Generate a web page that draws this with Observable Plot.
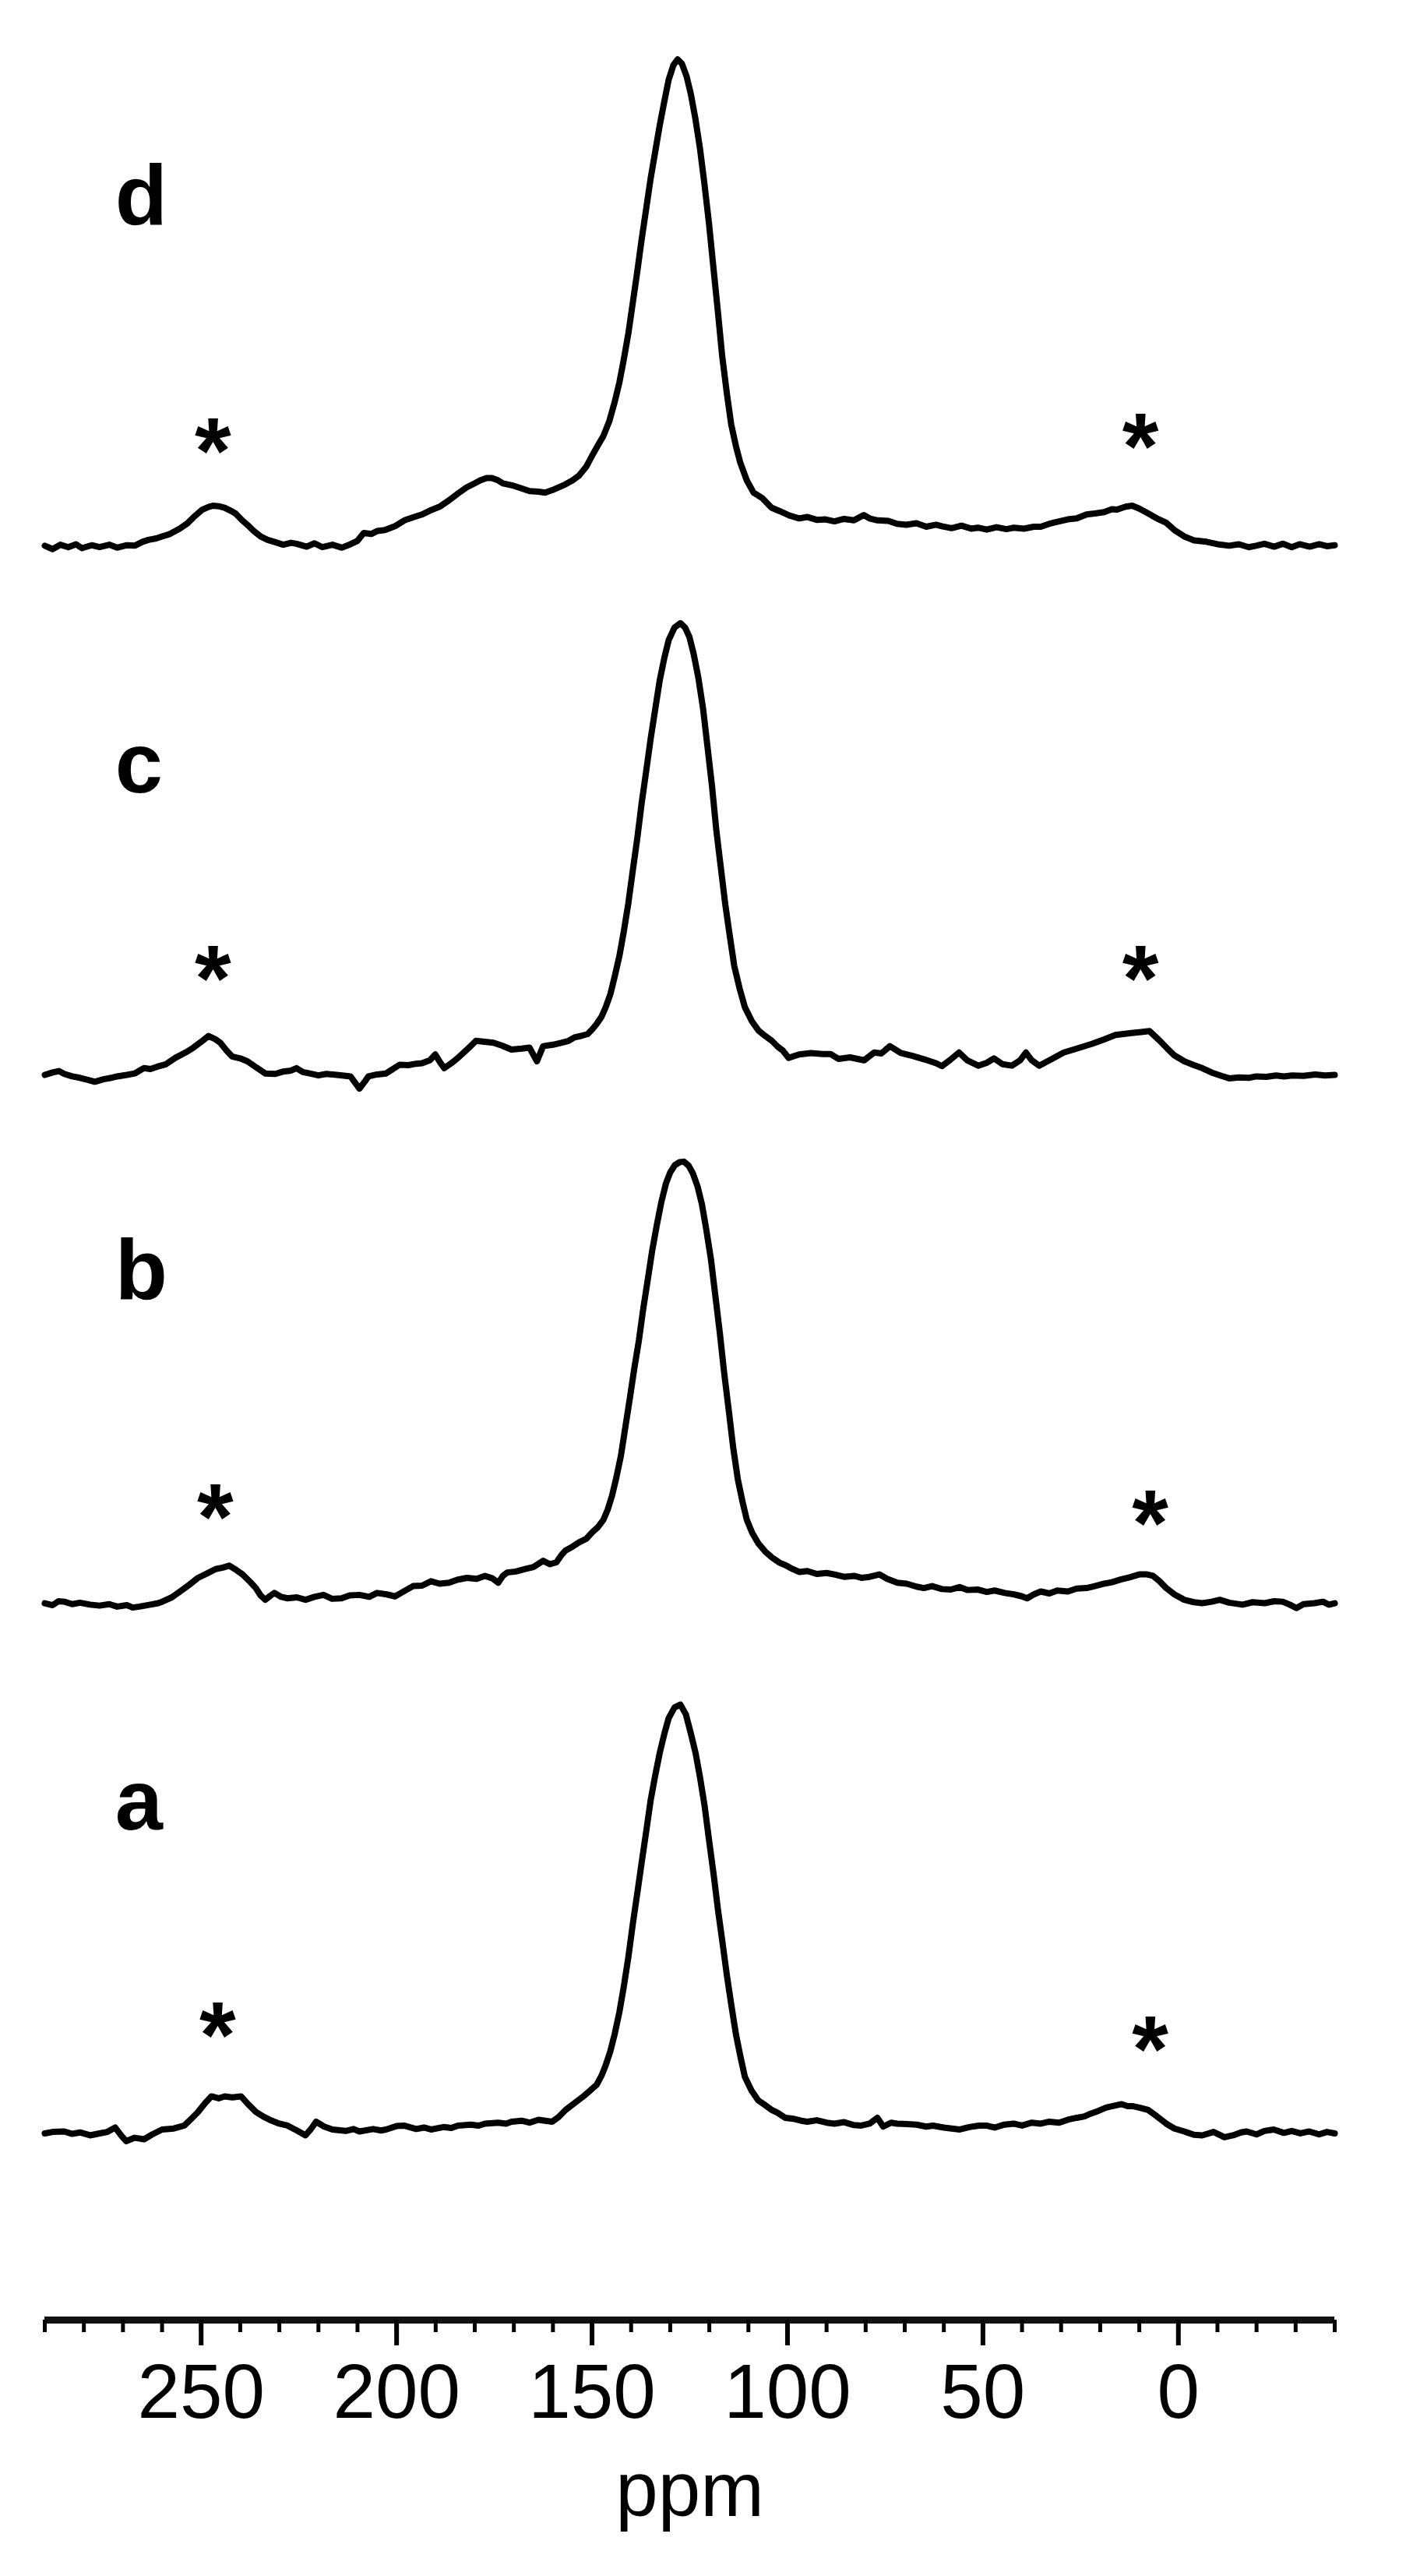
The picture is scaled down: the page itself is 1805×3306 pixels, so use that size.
<!DOCTYPE html>
<html><head><meta charset="utf-8">
<script src="https://cdn.jsdelivr.net/npm/d3@7"></script>
<script src="https://cdn.jsdelivr.net/npm/@observablehq/plot@0.6"></script>
<style>body{margin:0;background:#fff;} #chart svg{display:block;}</style>
</head><body><div id="chart"></div>
<script>
// Spectra: [chemical shift (ppm), intensity relative to baseline, tallest peak (d) = 100]
const specD = [[290,0],[288,-0.7],[286,0.2],[284,-0.3],[282,0.3],[280.5,-0.5],[278,0.1],[276,-0.3],[273.5,0.2],[271.5,-0.4],[269,0.1],[267,0],[265,0.8],[263.5,1.2],[261.5,1.5],[260,1.9],[258,2.4],[255.5,3.5],[253.5,4.6],[252,5.8],[249.7,7.4],[248,8.0],[247,8.2],[245.5,8.1],[244,7.8],[242.5,7.2],[241.2,6.6],[239.5,5.2],[238.2,4.3],[236.5,3.0],[234.8,1.9],[233,1.2],[231.3,0.8],[229,0.2],[227,0.6],[225.6,0.4],[223,-0.2],[221,0.5],[219,-0.3],[216.4,0.2],[214,-0.4],[211.8,0.3],[210,1.0],[208.4,2.6],[206.5,2.4],[205,3.0],[203,3.2],[200.4,4.0],[198,5.2],[195.8,5.8],[193.5,6.4],[191.2,7.3],[189,8.0],[186.6,9.3],[184.5,10.6],[182,12.0],[180,12.8],[178.6,13.4],[177,13.9],[175.6,13.9],[174,13.4],[172.8,12.8],[170.5,12.4],[168.2,11.8],[166,11.2],[163.7,11.1],[162,10.9],[160.2,11.4],[158.5,12.0],[156.8,12.6],[155,13.4],[153.3,14.4],[151.5,16.2],[149.9,18.6],[148.5,20.6],[147.1,22.5],[145.6,25.5],[144.2,29.5],[143,33.5],[141.9,38.1],[140.7,43.6],[139.6,49.7],[138.4,56.4],[137.3,62.9],[136.1,69.4],[135,75.4],[133.8,81.0],[132.7,86.2],[131.5,91.2],[130.4,95.6],[129.2,98.6],[128.1,99.8],[127,98.9],[125.8,96.3],[124.7,92.6],[123.6,87.8],[122.4,81.6],[121.3,74.6],[120.1,66.3],[119,57.5],[117.8,48.0],[116.7,38.9],[115.5,31.2],[114.4,24.9],[113.2,20.5],[112.1,17.1],[110.4,13.4],[108.7,10.9],[106.5,9.8],[104.1,7.8],[102,7.1],[99.5,6.2],[97,5.6],[95,5.9],[92.5,5.3],[90.3,5.4],[88,5.0],[85.5,5.5],[83,5.2],[80.5,6.3],[79,5.6],[77,5.2],[74.2,5.1],[72,4.5],[69.6,4.3],[67,4.6],[64.5,3.9],[62,4.3],[60.5,4.0],[58,3.6],[55.5,4.1],[53,3.5],[51.3,3.7],[49,3.3],[46.5,3.8],[44,3.4],[42.1,3.7],[39.5,3.5],[37,3.9],[35.2,3.9],[33,4.5],[30.5,5.0],[28.3,5.4],[26,5.6],[23.5,6.4],[21.4,6.6],[19,6.9],[17,7.5],[15.7,7.4],[13.5,8.0],[11.8,8.2],[10,7.6],[7.7,6.6],[5.5,5.6],[3.1,4.7],[1,3.2],[-1.5,1.9],[-4,1.1],[-7.2,0.8],[-10,0.3],[-13,0],[-15.5,0.3],[-18,-0.3],[-19.9,0],[-22,0.4],[-24.5,-0.2],[-26.7,0.4],[-29,-0.3],[-31,0.3],[-33.6,-0.2],[-36,0.3],[-38,-0.1],[-40,0.1]];

const specC = [[290,0],[288,0.5],[286.4,0.8],[285,0.2],[283,-0.3],[281,-0.6],[279,-1.0],[277.2,-1.4],[275,-0.9],[273,-0.6],[271.5,-0.3],[269,0.0],[267,0.3],[265.5,1.0],[264.6,1.4],[263,1.2],[261.2,1.7],[259,2.2],[256.6,3.5],[254,4.6],[252,5.6],[250,6.8],[248.1,8.0],[246.5,7.4],[245.1,6.6],[243.5,5.0],[242.1,3.8],[240,3.4],[238.2,2.8],[236,1.6],[233.6,0.3],[231,0.2],[229,0.7],[227,0.9],[225.6,1.4],[224,0.6],[222.2,0.3],[220,-0.1],[218,0.2],[215.3,0],[213,-0.2],[211.8,-0.3],[209.5,-2.8],[208,-1.2],[207.2,-0.3],[205,0.1],[202.7,0.3],[201,1.2],[199.2,2.1],[197,2.0],[195,2.3],[193.5,2.4],[191.5,3.0],[190.1,4.2],[188.8,2.5],[187.8,1.4],[186,2.4],[184.3,3.5],[182,5.2],[179.7,7.0],[177.5,6.8],[175.2,6.6],[173,6.0],[170.6,5.2],[168,5.4],[166,5.6],[164.1,2.8],[162.5,5.9],[160,6.2],[157.9,6.6],[156,7.0],[154.5,7.7],[152.8,8.0],[151.1,8.4],[149.9,9.4],[148.8,10.5],[147.6,11.9],[146.5,13.9],[145.3,16.6],[144.2,20.2],[143,24.4],[141.9,29.3],[140.7,35.3],[139.6,41.8],[138.4,48.7],[137.3,55.8],[136.1,62.6],[135,69.0],[133.8,75.2],[132.7,80.9],[131.5,85.6],[130.4,89.2],[128.9,91.8],[127.4,92.7],[126.2,91.8],[125.1,89.9],[124,86.4],[122.8,81.5],[121.6,75.2],[120.5,67.6],[119.3,59.2],[118.2,50.2],[117,42.2],[115.9,34.9],[114.7,28.2],[113.6,22.3],[112.2,17.6],[110.9,13.9],[109.1,11.0],[107.4,9.1],[105.7,8.0],[104,7.0],[102.5,5.8],[101.2,5.0],[99.7,3.5],[97,4.2],[94,4.5],[91,4.3],[89,4.3],[87,3.3],[84,3.6],[80.4,3.0],[77.8,4.6],[76,4.4],[73.8,5.9],[71,4.5],[68,3.9],[65,3.2],[62,2.4],[60.5,1.8],[58.5,3.0],[56.1,4.6],[54,3.0],[51.2,1.9],[49,2.5],[47.2,3.4],[45,2.2],[42.6,1.9],[40.5,3.0],[39,4.6],[37.5,3.0],[35.6,1.9],[33,3.0],[29.3,4.6],[26,5.4],[22,6.4],[19,7.3],[16.1,8.2],[12,8.6],[9.5,8.8],[7.4,9.0],[5,7.2],[2.8,5.4],[1,4.0],[-1.5,2.8],[-4,2.0],[-6.1,1.4],[-8.5,0.5],[-11,-0.2],[-13,-0.7],[-15.5,-0.5],[-18,-0.6],[-19.9,-0.3],[-22.5,-0.4],[-25,-0.1],[-27,-0.3],[-29.1,-0.1],[-32,-0.2],[-35,0.1],[-37.5,-0.1],[-40,0]];

const specB = [[290,0],[288,-0.4],[286.5,0.4],[285,0.3],[283,-0.2],[281,0.1],[278.4,-0.3],[276,-0.5],[273.5,-0.2],[271.5,-0.7],[269,-0.4],[267.5,-0.9],[265.8,-0.7],[263,-0.3],[261,0.0],[260,0.3],[257.5,1.2],[255.4,2.4],[253,3.8],[250.8,5.2],[248.5,6.1],[246.3,7.0],[244.5,7.3],[242.8,7.7],[241,6.8],[239.4,5.9],[237.5,4.4],[236,3.1],[234.8,1.6],[233.6,0.7],[232.5,1.4],[231.3,2.1],[229.5,1.3],[227.9,1.0],[225.5,1.2],[223.3,0.7],[221,1.3],[218.7,1.7],[216.5,0.9],[214.1,1.0],[212,1.6],[209.5,1.7],[207,1.3],[205,2.1],[202.5,1.8],[200.4,1.4],[198,2.5],[195.8,3.5],[193.5,3.6],[191.2,4.5],[189,4.0],[186.6,4.2],[184.5,4.8],[182,5.2],[179.5,5.0],[177.4,5.6],[175.5,5.1],[174,4.2],[172.8,5.6],[171.7,6.3],[169.5,6.5],[167.1,7.0],[165,7.4],[162.5,8.7],[160.8,8.0],[159.1,8.4],[157.8,9.9],[156.8,10.8],[155,11.6],[153.3,12.5],[151.5,13.2],[149.9,14.6],[148.5,15.6],[147.1,17.1],[146,19.2],[144.9,22.0],[143.8,25.7],[142.6,30.3],[141.5,36.0],[140.3,42.2],[139.2,48.1],[138,54.0],[136.9,60.4],[135.7,66.6],[134.6,72.4],[133.4,77.7],[132.3,82.2],[131.1,86.1],[130,88.4],[128.8,89.9],[127.6,90.5],[126.5,90.6],[125.3,89.8],[124.2,88.2],[123,85.5],[121.9,81.9],[120.8,76.8],[119.6,70.7],[118.5,63.4],[117.3,55.4],[116.2,47.3],[115,39.4],[113.9,32.0],[112.7,25.4],[111.5,20.8],[110.4,17.1],[109,14.4],[107.4,12.2],[105.7,10.6],[104,9.4],[102,8.3],[100.5,7.8],[99.4,7.3],[97,6.4],[94.9,6.6],[92.5,6.0],[90,6.2],[88,5.9],[85.5,5.4],[83,5.6],[81.1,5.2],[79,5.4],[76.5,5.9],[74.5,5.0],[71.9,4.2],[69.5,4.0],[67,3.4],[65.1,3.1],[63,3.5],[60.5,2.9],[58.2,2.8],[56,3.3],[54,2.7],[51.4,2.8],[49,2.3],[47,2.6],[44.4,2.1],[42,1.8],[40,1.4],[38.7,1.0],[37,1.8],[35.2,2.4],[33,2.0],[31,2.6],[28.3,2.4],[26,3.0],[23.5,3.1],[21.4,3.5],[19,4.0],[17,4.3],[14.6,4.9],[12.5,5.3],[10,5.9],[8,5.9],[6.5,5.6],[4.8,4.5],[3.1,3.1],[1,1.8],[-1.5,0.7],[-4,0.2],[-6.1,0],[-8.5,0.3],[-10.6,0.7],[-13,0.1],[-16.4,-0.3],[-19,0.2],[-22.1,0],[-24.5,0.4],[-26.7,0.3],[-28.5,-0.3],[-30.2,-1.0],[-32,-0.2],[-34.8,0],[-37,0.3],[-38.5,-0.3],[-40,0]];

const specA = [[290,0],[288,0.3],[285,0.4],[283,-0.1],[281,0.2],[278.4,-0.4],[276,0.0],[274,0.3],[272,1.2],[270.5,-0.4],[269.2,-1.6],[267,-0.9],[264.6,-1.2],[262.5,-0.2],[260,0.8],[257,1.0],[254.3,1.6],[252.5,3.0],[250.8,4.4],[249,6.2],[247.4,7.6],[245.5,7.2],[244,7.6],[242,7.4],[239.8,7.6],[238,6.0],[236,4.4],[234,3.4],[232.5,2.8],[230,2.0],[227.9,1.6],[225.5,0.6],[223.3,-0.4],[222,0.8],[220.6,2.4],[218.5,1.4],[216.4,0.8],[213,0.5],[211,0.9],[209.5,0.4],[206,0.9],[204,0.6],[202.7,0.8],[200,1.5],[198.1,1.6],[195,0.9],[193,1.2],[191.2,0.8],[188,1.3],[186,1.1],[184.3,1.6],[181,1.8],[179,1.6],[177.4,2.0],[174,2.2],[172,2.0],[170.6,2.4],[168,2.6],[166,2.2],[163.7,2.8],[162,2.6],[160.2,2.4],[158.5,3.4],[156.8,4.8],[154.5,6.2],[152.2,7.6],[150.5,8.8],[148.8,10.0],[147.6,11.8],[146.5,14.0],[145.3,16.9],[144.2,20.4],[143,24.9],[141.9,30.0],[140.7,36.2],[139.6,42.8],[138.4,49.4],[137.3,55.6],[136.1,62.2],[135,68.4],[133.8,73.6],[132.7,78.0],[131.5,82.0],[130.4,85.2],[128.9,87.4],[127.4,88.0],[126,86.0],[124.7,82.0],[123.5,78.0],[122.4,73.2],[121.2,67.2],[120.1,60.4],[118.9,53.2],[117.8,46.0],[116.6,39.0],[115.5,32.4],[114.3,26.0],[113.2,20.4],[112,15.6],[110.9,11.6],[109.2,8.8],[107.5,6.8],[105.7,5.8],[104,4.8],[102.5,4.2],[100.6,3.2],[98.5,3.0],[96.5,2.6],[94.9,2.4],[92.5,2.7],[90,2.2],[88,2.0],[85.5,2.3],[83,1.7],[81.1,1.6],[79,2.0],[77,3.2],[75.5,1.4],[73.5,2.2],[71.9,2.0],[69.5,1.9],[67,1.8],[64.5,1.4],[62.8,1.6],[60,1.2],[58,1.0],[55.9,0.8],[53.5,1.3],[51,1.6],[49.1,1.6],[47,1.2],[44.5,1.8],[42.1,2.0],[40,1.6],[37.5,2.2],[35.2,2.0],[33,2.4],[30.5,2.2],[28.3,2.8],[26,3.2],[24,3.5],[22.6,4.0],[20.5,4.6],[18.5,5.3],[16.8,5.6],[14.5,6.0],[13,5.6],[11.8,5.6],[10,5.3],[7.7,4.8],[5.5,3.5],[3.1,2.0],[1,1.0],[-1.5,0.4],[-4,-0.3],[-6.1,-0.4],[-9,0.3],[-11.8,-0.8],[-14,-0.4],[-16,0.2],[-17.5,0.4],[-20,-0.2],[-22,0.5],[-24.4,0.8],[-27,0.1],[-29,0.5],[-31.2,0],[-33.5,0.4],[-36,-0.2],[-38,0.3],[-40,0]];

// Panel labels and spinning-sideband markers (height above each trace's baseline)
const panels = ["a", "b", "c", "d"];
const labelHeight = [62.4, 62.4, 57.9, 66.0];
const starPpm = [[245.8, 7.2], [246.4, 7.2], [247, 9.7], [247, 9.7]];
const starHeight = [[27.2, 24.3], [24.8, 23.5], [26.9, 26.9], [26.4, 27.5]];

// Axis ticks
const majorTicks = [250, 200, 150, 100, 50, 0];
const minorTicks = d3.range(-40, 291, 10);

// Vertical stacking (layout)
const stackOffset = {a: 38.3, b: 147.1, c: 255.5, d: 364.1};
const series = {a: specA, b: specB, c: specC, d: specD};

const rows = [];
for (const s of panels) for (const [p, v] of series[s]) rows.push({s, ppm: p, v: v + stackOffset[s]});
const labelRows = panels.map((s, i) => ({t: s, ppm: 272, v: labelHeight[i] + stackOffset[s]}));
const starRows = [];
panels.forEach((s, i) => starPpm[i].forEach((p, j) => starRows.push({t: "*", ppm: p, v: starHeight[i][j] + stackOffset[s]})));

const font = "'Liberation Sans', Arial, Helvetica, sans-serif";
const plot = Plot.plot({
  width: 1805, height: 3306,
  marginLeft: 57, marginRight: 92, marginTop: 0, marginBottom: 329,
  x: {domain: [290, -40]},
  y: {domain: [0, 476], axis: null},
  style: {fontFamily: font, background: "#fff", color: "#000", overflow: "visible"},
  marks: [
    Plot.line(rows, {x: "ppm", y: "v", z: "s", stroke: "#000", strokeWidth: 8, strokeLinejoin: "round", strokeLinecap: "round"}),
    Plot.ruleY([0], {stroke: "#111", strokeWidth: 9}),
    Plot.axisX({ticks: minorTicks, tickSize: 16, strokeWidth: 5, tickFormat: () => "", label: null}),
    Plot.axisX({ticks: majorTicks, tickSize: 33, strokeWidth: 6, tickPadding: 23, fontSize: 98,
      tickFormat: d => String(d), label: "ppm", labelAnchor: "center", labelArrow: "none", labelOffset: 251}),
    Plot.text(labelRows, {x: "ppm", y: "v", text: "t", fontSize: 110, fontWeight: "bold", textAnchor: "start", lineAnchor: "bottom", fill: "#000"}),
    Plot.text(starRows, {x: "ppm", y: "v", text: "t", fontSize: 120, fontWeight: "bold", textAnchor: "middle", lineAnchor: "top", fill: "#000"})
  ]
});
document.getElementById("chart").append(plot);
</script>
</body></html>
